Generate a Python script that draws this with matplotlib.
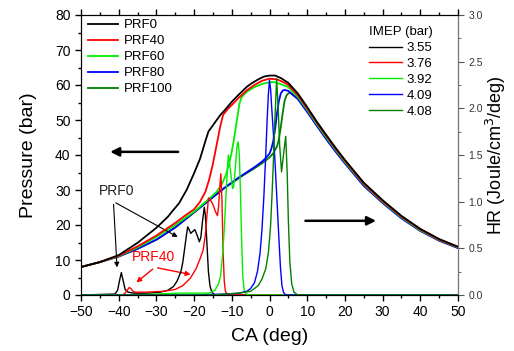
import matplotlib
matplotlib.use("Agg")
import matplotlib.pyplot as plt
from matplotlib.ticker import MultipleLocator, FormatStrFormatter

plt.rcParams['font.family'] = ['Liberation Sans', 'DejaVu Sans']

# ---- pressure traces (bar) ----
ca_p0 = [-50, -45, -40, -35, -33.5, -30, -27, -25.5, -24, -22, -20, -18.4, -17, -16.2, -15, -13, -11.8, -10,
         -8.3, -6, -4.7, -3, -1.5, 0, 1.5, 3, 5, 7.5, 10, 12.5, 15, 17.5, 20, 25, 30, 35, 40, 45, 50]
p_p0 = [8.0, 9.4, 11.4, 14.9, 16.2, 19.2, 22.3, 24.3, 26.2, 30.0, 34.8, 39.0, 44.0, 46.7, 48.5, 51.5, 52.9, 55.2,
        57.1, 59.5, 60.5, 61.6, 62.4, 62.7, 62.7, 62.0, 60.6, 57.6, 53.7, 49.6, 45.8, 42.1, 38.6, 32.1, 27.1,
        22.6, 18.9, 16.0, 13.8]

ca_p40 = [-50, -45, -40, -35, -30, -25, -22, -20, -18.5, -17, -16, -15, -14, -13, -12.3, -11, -10, -8, -6, -4,
          -2, 0, 2, 3.5, 5, 7.5, 10, 12.5, 15, 17.5, 20, 25, 30, 35, 40, 45, 50]
p_p40 = [8.0, 9.4, 11.2, 13.9, 17.0, 20.6, 23.0, 24.5, 26.5, 29.5, 33.0, 37.5, 43.0, 48.5, 51.5, 53.2, 54.3,
         56.5, 58.5, 60.0, 61.2, 61.8, 61.6, 60.9, 60.0, 57.1, 53.3, 49.3, 45.5, 41.8, 38.3, 31.8, 26.8, 22.4,
         18.7, 15.8, 13.7]

ca_p60 = [-50, -45, -40, -35, -30, -25, -20, -16, -14, -12.5, -11.5, -11, -10.5, -10, -9.5, -9, -8.5, -8, -7.5,
          -7, -6, -4, -2, 0, 1.5, 3, 5, 7.5, 10, 12.5, 15, 17.5, 20, 25, 30, 35, 40, 45, 50]
p_p60 = [8.0, 9.4, 11.1, 13.6, 16.6, 20.0, 23.8, 27.5, 29.5, 32.0, 34.5, 36.5, 38.5, 41.0, 44.0, 47.5, 51.0,
         54.5, 56.3, 57.0, 58.1, 59.4, 60.3, 60.8, 60.8, 60.2, 59.4, 56.6, 52.9, 48.9, 45.1, 41.5, 38.0, 31.6,
         26.6, 22.2, 18.5, 15.7, 13.6]

ca_p80 = [-50, -45, -40, -35, -30, -25, -20, -16, -12, -8, -4, -2, -1, 0, 0.5, 1, 1.5, 2, 2.5, 3, 3.5, 4, 5,
          7.5, 10, 12.5, 15, 17.5, 20, 25, 30, 35, 40, 45, 50]
p_p80 = [8.0, 9.4, 11.0, 13.2, 15.8, 19.3, 23.6, 27.1, 30.6, 33.7, 36.5, 38.1, 39.1, 40.4, 41.8, 44.0, 47.5,
         52.0, 55.5, 57.6, 58.4, 58.6, 58.3, 56.0, 52.3, 48.4, 44.6, 41.0, 37.6, 31.2, 26.3, 21.9, 18.3, 15.5,
         13.4]

ca_p100 = [-50, -45, -40, -35, -30, -25, -20, -16, -12, -8, -4, -2, 0, 1, 2, 2.5, 3, 3.5, 4, 4.5, 5, 5.5, 7.5,
           10, 12.5, 15, 17.5, 20, 25, 30, 35, 40, 45, 50]
p_p100 = [8.0, 9.4, 11.0, 13.2, 15.8, 19.3, 23.6, 27.1, 30.5, 33.5, 36.2, 37.6, 39.3, 40.5, 42.5, 44.5, 48.0,
          52.0, 55.5, 57.0, 57.6, 57.8, 56.1, 52.5, 48.6, 44.7, 41.1, 37.7, 31.3, 26.4, 22.0, 18.4, 15.6, 13.5]

# ---- heat release traces (Joule/cm3/deg) ----
ca_h0 = [-50, -41, -40.3, -39.8, -39.3, -38.8, -38.3, -37.5, -36, -32, -29, -27, -25.5, -24.5, -23.5, -23,
         -22.5, -22.0, -21.7, -21.3, -20.9, -20.4, -19.8, -19.2, -18.6, -18.2, -17.8, -17.3, -17.0, -16.6,
         -16.2, -15.8, -15.3, -14.5, 50]
hr_h0 = [0, 0.01, 0.05, 0.15, 0.24, 0.15, 0.06, 0.03, 0.02, 0.02, 0.03, 0.05, 0.09, 0.15, 0.25, 0.35, 0.5,
         0.65, 0.73, 0.70, 0.66, 0.68, 0.70, 0.64, 0.57, 0.62, 0.78, 0.94, 0.85, 0.55, 0.25, 0.1, 0.03, 0.0, 0]

ca_h40 = [-50, -39, -38.3, -37.8, -37.2, -36.8, -36.2, -35.5, -33, -28, -25, -23, -21, -19.5, -18.5, -17.6,
          -17.0, -16.6, -16.2, -15.7, -15.0, -14.4, -13.8, -13.5, -13.2, -12.9, -12.6, -12.3, -12.0, -11.7,
          -11.0, 50]
hr_h40 = [0, 0.0, 0.02, 0.05, 0.08, 0.07, 0.04, 0.03, 0.03, 0.04, 0.06, 0.1, 0.18, 0.28, 0.38, 0.48, 0.65,
          0.85, 1.04, 1.02, 0.97, 0.9, 0.85, 0.95, 1.15, 1.30, 1.0, 0.45, 0.15, 0.04, 0.0, 0]

ca_h60 = [-50, -36, -30, -24, -18, -16, -14.5, -13.5, -13, -12.5, -12, -11.5, -11.1, -10.9, -10.6, -10.2,
          -9.8, -9.5, -9.2, -8.9, -8.6, -8.3, -8.0, -7.7, -7.4, -7.1, -6.7, -6.2, -5, 50]
hr_h60 = [0, 0, 0.01, 0.02, 0.02, 0.02, 0.05, 0.12, 0.2, 0.4, 0.7, 1.1, 1.4, 1.50, 1.42, 1.28, 1.14, 1.16,
          1.3, 1.45, 1.6, 1.64, 1.5, 1.1, 0.6, 0.2, 0.05, 0.01, 0, 0]

ca_h80 = [-50, -20, -12, -8, -6, -5, -4, -3.2, -2.5, -2.0, -1.5, -1.0, -0.6, -0.3, 0.0, 0.3, 0.6, 1.0, 1.5,
          2.0, 2.5, 2.9, 3.3, 3.7, 4.3, 50]
hr_h80 = [0, 0, 0.01, 0.02, 0.04, 0.07, 0.13, 0.25, 0.45, 0.7, 1.05, 1.5, 1.9, 2.15, 2.30, 2.2, 2.0, 1.75,
          1.4, 1.0, 0.6, 0.3, 0.1, 0.03, 0.0, 0]

ca_h100 = [-50, -15, -8, -5, -3, -2, -1, -0.3, 0.3, 0.7, 1.0, 1.4, 1.9, 2.3, 2.7, 3.2, 3.7, 4.3, 4.7, 5.0,
           5.4, 5.9, 6.5, 7.5, 50]
hr_h100 = [0, 0, 0.02, 0.04, 0.1, 0.17, 0.28, 0.45, 0.75, 1.1, 1.4, 1.85, 2.32, 2.0, 1.6, 1.32, 1.5, 1.70,
           1.3, 0.8, 0.35, 0.12, 0.03, 0.0, 0]

fuels = ['PRF0', 'PRF40', 'PRF60', 'PRF80', 'PRF100']
imep = ['3.55', '3.76', '3.92', '4.09', '4.08']
colors = ['black', '#ff0000', '#00ee00', '#0000ff', '#008000']

fig = plt.figure(figsize=(5.14, 3.51), dpi=100)
ax = fig.add_axes([81 / 514, 56 / 351, 377 / 514, 280 / 351])
ax2 = ax.twinx()

p_sets = [(ca_p0, p_p0), (ca_p40, p_p40), (ca_p60, p_p60), (ca_p80, p_p80), (ca_p100, p_p100)]
h_sets = [(ca_h0, hr_h0), (ca_h40, hr_h40), (ca_h60, hr_h60), (ca_h80, hr_h80), (ca_h100, hr_h100)]
zo = [5, 4, 3, 2.5, 2]

p_lines = []
for (x, y), c, name, z in zip(p_sets, colors, fuels, zo):
    ln, = ax.plot(x, y, color=c, lw=1.3, label=name, zorder=z)
    p_lines.append(ln)

h_lines = []
for (x, y), c, lab in zip(h_sets, colors, imep):
    ln, = ax2.plot(x, y, color=c, lw=1.0, label=lab)
    h_lines.append(ln)

ax.set_xlim(-50, 50)
ax.set_ylim(0, 80)
ax2.set_ylim(0, 3.0)

ax.xaxis.set_major_locator(MultipleLocator(10))
ax.xaxis.set_minor_locator(MultipleLocator(5))
ax.yaxis.set_major_locator(MultipleLocator(10))
ax.yaxis.set_minor_locator(MultipleLocator(5))
ax2.yaxis.set_major_locator(MultipleLocator(0.5))
ax2.yaxis.set_minor_locator(MultipleLocator(0.25))

ax.tick_params(axis='both', which='major', length=4, width=1, labelsize=10, direction='out')
ax.tick_params(axis='both', which='minor', length=2.5, width=1, direction='out')
ax.tick_params(axis='x', top=True, which='both')
ax2.tick_params(axis='y', which='major', length=4, labelsize=7.5, colors='#555555', labelcolor='#333333')
ax2.tick_params(axis='y', which='minor', length=2.5, colors='#555555')
ax2.yaxis.set_major_formatter(FormatStrFormatter('%.1f'))
ax2.spines['right'].set_color('#777777')

ax.set_xlabel('CA (deg)', fontsize=14, labelpad=6)
ax.set_ylabel('Pressure (bar)', fontsize=14, labelpad=13)
ax2.set_ylabel('HR (Joule/cm$^3$/deg)', fontsize=13, labelpad=1)

# legends
leg1 = ax2.legend(p_lines, fuels, loc='upper left', bbox_to_anchor=(0.018, 0.985), frameon=False,
                  fontsize=9.5, handlelength=2.3, handletextpad=0.4, labelspacing=0.28,
                  borderaxespad=0, borderpad=0)
ax2.add_artist(leg1)
ax2.legend(h_lines, imep, title='IMEP (bar)', title_fontsize=9.5, loc='upper left',
           bbox_to_anchor=(0.765, 0.96), frameon=False, fontsize=9.5, handlelength=2.5,
           handletextpad=0.3, labelspacing=0.28, borderaxespad=0, borderpad=0, alignment='left')

# annotations
ax.text(-40.5, 29.7, 'PRF0', fontsize=10, ha='center', va='center', color='#222222')
ax.annotate('', xy=(-40.4, 7.1), xytext=(-41.4, 26.7),
            arrowprops=dict(arrowstyle='-|>', color='black', lw=0.8, mutation_scale=7))
ax.annotate('', xy=(-23.7, 16.2), xytext=(-41.4, 26.7),
            arrowprops=dict(arrowstyle='-|>', color='black', lw=0.8, mutation_scale=7))
ax.text(-30.8, 10.9, 'PRF40', fontsize=10, ha='center', va='center', color='#ff0000')
ax.annotate('', xy=(-35.9, 3.1), xytext=(-30.4, 7.9),
            arrowprops=dict(arrowstyle='-|>', color='#ff0000', lw=1.0, mutation_scale=7))
ax.annotate('', xy=(-20.2, 5.7), xytext=(-30.4, 7.9),
            arrowprops=dict(arrowstyle='-|>', color='#ff0000', lw=1.0, mutation_scale=7))

ax.annotate('', xy=(-43.0, 40.9), xytext=(-23.5, 40.9),
            arrowprops=dict(arrowstyle='-|>', color='black', lw=1.8, mutation_scale=13))
ax.annotate('', xy=(29.0, 21.2), xytext=(8.8, 21.2),
            arrowprops=dict(arrowstyle='-|>', color='black', lw=1.8, mutation_scale=13))

fig.savefig('out.png', dpi=100)
